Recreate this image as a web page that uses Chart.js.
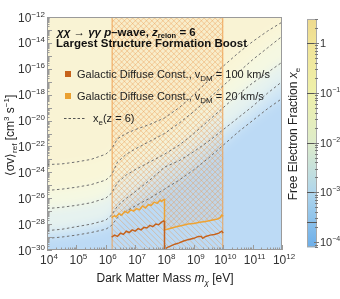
<!DOCTYPE html>
<html><head><meta charset="utf-8">
<script src="https://cdn.jsdelivr.net/npm/chart.js@4.4.1/dist/chart.umd.min.js"></script>
<style>html,body{margin:0;padding:0;background:#fff}#wrap{width:340px;height:299px;position:relative}</style>
</head><body><div id="wrap"><canvas id="c" width="340" height="299"></canvas></div>
<script>
// ---------- data (log10 values) ----------
const xTickExps = [4,5,6,7,8,9,10,11,12];
const yTickExps = [-12,-14,-16,-18,-20,-22,-24,-26,-28,-30];
const cbTickExps = [0,-1,-2,-3,-4];
const contourLevelsLog = [0, -1, -2, -3, -3.6];           // x_e levels of dashed contours
const contourLogMass = [4,4.5,5,5.5,6,6.2,6.4,6.7,7,7.5,8,8.5,9,9.5,10,10.5,11,11.5,12];
const contourXe1   = [-23.4,-23.35,-23.2,-23.0,-22.6,-22.2,-21.4,-21.0,-20.7,-20.3,-19.8,-19.0,-18.0,-16.9,-15.8,-14.8,-13.9,-13.1,-12.4];
const contourXe01  = [-25.4,-25.3,-25.15,-24.95,-24.6,-24.2,-23.2,-22.6,-22.2,-21.6,-21.0,-20.2,-19.3,-18.3,-17.3,-16.3,-15.3,-14.4,-13.5];
const contourXe001 = [-26.8,-26.7,-26.55,-26.35,-26.0,-25.6,-24.8,-24.2,-23.8,-23.2,-22.6,-21.9,-21.0,-20.0,-19.0,-18.0,-17.1,-16.3,-15.5];
const contourXe1e3 = [-28.5,-28.4,-28.2,-28.0,-27.7,-27.3,-26.6,-26.0,-25.5,-24.6,-23.6,-23.1,-22.4,-21.6,-20.7,-19.8,-18.9,-17.9,-17.0];
const contourXe25e5= [-29.1,-29.0,-28.85,-28.65,-28.4,-28.1,-27.5,-27.0,-26.6,-26.0,-25.3,-24.6,-23.8,-22.9,-21.9,-20.9,-20.0,-19.1,-18.3];

const v100LogMass  = [6.2,6.3,6.4,6.5,6.6,6.7,6.8,6.9,7.0,7.1,7.2,7.3,7.4,7.5,7.6,7.7,7.8,7.9,7.97,8.0,8.0,8.1,8.2,8.35,8.5,8.65,8.8,9.0,9.15,9.25,9.3,9.4,9.55,9.7,9.85,9.95,10.0];
const v100LogSigma = [-29.0,-28.85,-28.95,-28.7,-28.8,-28.55,-28.65,-28.45,-28.55,-28.35,-28.45,-28.25,-28.3,-28.1,-28.2,-28.0,-28.05,-27.85,-27.75,-27.8,-29.95,-29.8,-29.7,-29.55,-29.45,-29.3,-29.2,-29.1,-28.95,-28.95,-29.1,-28.95,-28.85,-28.8,-28.7,-28.55,-28.7];
const v20LogMass   = [6.2,6.3,6.35,6.45,6.55,6.65,6.75,6.85,6.95,7.05,7.15,7.25,7.35,7.45,7.55,7.65,7.75,7.85,7.9,7.97,8.0,8.0,8.1,8.25,8.4,8.6,8.8,9.0,9.2,9.4,9.6,9.8,9.9,9.95,10.0];
const v20LogSigma  = [-27.5,-27.35,-27.45,-27.2,-27.3,-27.0,-27.15,-26.9,-27.0,-26.8,-26.9,-26.6,-26.75,-26.5,-26.55,-26.3,-26.4,-26.15,-26.25,-26.1,-26.1,-28.45,-28.4,-28.3,-28.2,-28.1,-28.0,-27.95,-27.85,-27.8,-27.7,-27.6,-27.5,-27.3,-27.4];
const hatchLogMassRange = [6.2, 10];

const titleLine2 = 'Largest Structure Formation Boost';
const legendLabel1 = ['Galactic Diffuse Const., v', 'DM', ' = 100 km/s'];
const legendLabel2 = ['Galactic Diffuse Const., v', 'DM', ' = 20 km/s'];
const xAxisTitle = ['Dark Matter Mass ', 'm', 'χ', ' [eV]'];
const yAxisTitle = ['⟨σv⟩', 'ref', ' [cm', '3', ' s', '−1', ']'];
const cbTitle = ['Free Electron Fraction ', 'x', 'e'];

// ---------- styling ----------
const FONT = '"Liberation Sans", Arial, Helvetica, sans-serif';
const cmapStops = [[0.48,[238,218,142]],[0,[241,228,152]],[-1,[238,240,170]],[-2,[222,236,202]],[-3,[176,214,236]],[-4.1,[108,174,233]]];
function cmap(l){
  if (l >= cmapStops[0][0]) return cmapStops[0][1];
  for (let i=0;i<cmapStops.length-1;i++){
    const [a,ca]=cmapStops[i],[b,cb]=cmapStops[i+1];
    if (l<=a && l>=b){const t=(a-l)/(a-b);return ca.map((v,k)=>Math.round(v+(cb[k]-v)*t));}
  }
  return cmapStops[cmapStops.length-1][1];
}
function light(c,a){return 'rgb('+c.map(v=>Math.round(v*a+255*(1-a))).join(',')+')';}
const bandLevels = [-3.9,-3.3,-2.5,-1.5,-0.5,0.2]; // below lowest contour ... above top contour
const bandAlpha  = [0.5,0.48,0.45,0.42,0.42,0.4];

const pts = (m,s)=>m.map((v,i)=>({x:10**v,y:10**s[i]}));
const contours = [contourXe1,contourXe01,contourXe001,contourXe1e3,contourXe25e5];

const datasets = [
  {data:pts(v100LogMass,v100LogSigma),borderColor:'#c6621b',borderWidth:1.5,order:0},
  {data:pts(v20LogMass,v20LogSigma),borderColor:'#eea333',borderWidth:1.5,order:0},
  ...contours.map(c=>({data:pts(contourLogMass,c),borderColor:'#707070',borderWidth:1,borderDash:[2.5,2.5],order:1}))
].map(d=>Object.assign({pointRadius:0,tension:0,fill:false},d));

function rich(ctx,segs,x,y,align){
  let w=0;
  segs.forEach(s=>{ctx.font=s.f;w+=ctx.measureText(s.t).width;});
  let cx = align==='center'?x-w/2:align==='right'?x-w:x;
  segs.forEach(s=>{ctx.font=s.f;ctx.fillText(s.t,cx,y+(s.dy||0));cx+=ctx.measureText(s.t).width;});
  return w;
}
const minus = e=>String(e).replace('-','−');

const drawPlugin = {
  id:'draw',
  beforeDatasetsDraw(chart){
    const {ctx,chartArea:a,scales:{x,y}}=chart;
    const off=document.createElement('canvas');off.width=chart.width;off.height=chart.height;
    const o=off.getContext('2d');
    o.fillStyle=light(cmap(bandLevels[0]),bandAlpha[0]);o.fillRect(0,0,off.width,off.height);
    for(let i=contours.length-1;i>=0;i--){
      const p=contourLogMass.map((m,k)=>[x.getPixelForValue(10**m),y.getPixelForValue(10**contours[i][k])]);
      o.beginPath();
      o.moveTo(a.left-60,p[0][1]);
      p.forEach(q=>o.lineTo(q[0],q[1]));
      o.lineTo(a.right+60,p[p.length-1][1]);
      o.lineTo(a.right+60,a.top-80);o.lineTo(a.left-60,a.top-80);o.closePath();
      const j=contours.length-i;
      o.fillStyle=light(cmap(bandLevels[j]),bandAlpha[j]);o.fill();
    }
    ctx.save();
    ctx.beginPath();ctx.rect(a.left,a.top,a.right-a.left,a.bottom-a.top);ctx.clip();
    ctx.filter='blur(5px)';ctx.drawImage(off,0,0);ctx.filter='none';
    const xa=x.getPixelForValue(10**hatchLogMassRange[0]),xb=x.getPixelForValue(10**hatchLogMassRange[1]);
    const H=a.bottom-a.top,sp=5.5;
    ctx.save();
    ctx.beginPath();ctx.rect(xa,a.top,xb-xa,H);ctx.clip();
    ctx.strokeStyle='rgba(236,150,70,0.5)';ctx.lineWidth=0.8;
    ctx.beginPath();
    for(let k=-H;k<xb-xa;k+=sp){ctx.moveTo(xa+k,a.top);ctx.lineTo(xa+k+H,a.bottom);}
    ctx.stroke();
    ctx.beginPath();
    ctx.moveTo(xa,a.top);
    v20LogMass.forEach((m,i)=>ctx.lineTo(x.getPixelForValue(10**m),y.getPixelForValue(10**v20LogSigma[i])));
    ctx.lineTo(xb,a.top);ctx.closePath();ctx.clip();
    ctx.fillStyle='rgba(245,165,90,0.08)';ctx.fillRect(xa,a.top,xb-xa,H);
    ctx.beginPath();
    for(let k=-H;k<xb-xa;k+=sp){ctx.moveTo(xa+k,a.bottom);ctx.lineTo(xa+k+H,a.top);}
    ctx.stroke();
    ctx.restore();
    ctx.strokeStyle='rgba(238,160,80,0.9)';ctx.lineWidth=1;
    ctx.beginPath();ctx.moveTo(xa+0.5,a.top);ctx.lineTo(xa+0.5,a.bottom);ctx.moveTo(xb-0.5,a.top);ctx.lineTo(xb-0.5,a.bottom);ctx.stroke();
    ctx.restore();
  },
  afterDraw(chart){
    const {ctx,chartArea:a,scales:{x,y,xe}}=chart;
    ctx.save();
    ctx.strokeStyle='#9a9a9a';ctx.lineWidth=1;
    ctx.strokeRect(a.left+0.5,a.top+0.5,a.right-a.left-1,a.bottom-a.top-1);
    ctx.beginPath();
    for(let e=4;e<=12;e++){
      for(let m=1;m<10;m++){
        if(e===12&&m>1)break;
        const px=Math.round(x.getPixelForValue(m*10**e))+0.5;
        const L=m===1?5:2.5;
        ctx.moveTo(px,a.bottom);ctx.lineTo(px,a.bottom-L);
      }
    }
    for(let e=-30;e<=-12;e++){
      for(let m=1;m<10;m++){
        if(e===-12&&m>1)break;
        const py=Math.round(y.getPixelForValue(m*10**e))+0.5;
        const L=m===1?5:2.5;
        ctx.moveTo(a.left,py);ctx.lineTo(a.left+L,py);
      }
    }
    ctx.stroke();
    ctx.fillStyle='#333';ctx.textBaseline='alphabetic';
    xTickExps.forEach(e=>{
      rich(ctx,[{t:'10',f:'12px '+FONT},{t:minus(e),f:'8px '+FONT,dy:-5}],x.getPixelForValue(10**e)+2,264,'center');
    });
    yTickExps.forEach(e=>{
      rich(ctx,[{t:'10',f:'12px '+FONT},{t:minus(e),f:'8px '+FONT,dy:-5}],45,y.getPixelForValue(10**e)+4.5,'right');
    });
    ctx.fillStyle='#222';
    rich(ctx,[{t:xAxisTitle[0],f:'12px '+FONT},{t:xAxisTitle[1],f:'italic 12px '+FONT},{t:xAxisTitle[2],f:'italic 8px '+FONT,dy:3},{t:xAxisTitle[3],f:'12px '+FONT}],165,282,'center');
    ctx.save();ctx.translate(14,(a.top+a.bottom)/2+2);ctx.rotate(-Math.PI/2);
    rich(ctx,[{t:yAxisTitle[0],f:'12px '+FONT},{t:yAxisTitle[1],f:'8px '+FONT,dy:3},{t:yAxisTitle[2],f:'12px '+FONT},{t:yAxisTitle[3],f:'8px '+FONT,dy:-5},{t:yAxisTitle[4],f:'12px '+FONT},{t:yAxisTitle[5],f:'8px '+FONT,dy:-5},{t:yAxisTitle[6],f:'12px '+FONT}],0,0,'center');
    ctx.restore();
    const cbL=307,cbR=317;
    const yT=xe.getPixelForValue(10**0.48),yB=xe.getPixelForValue(10**-4.1);
    const g=ctx.createLinearGradient(0,yT,0,yB);
    cmapStops.forEach(([l,c])=>{g.addColorStop(Math.min(1,Math.max(0,(xe.getPixelForValue(10**l)-yT)/(yB-yT))),'rgb('+c.join(',')+')');});
    ctx.fillStyle=g;ctx.fillRect(cbL,yT,cbR-cbL,yB-yT);
    ctx.strokeStyle='#a8a8a8';ctx.strokeRect(cbL+0.5,yT+0.5,cbR-cbL-1,yB-yT-1);
    ctx.strokeStyle='#555';ctx.lineWidth=1.2;ctx.beginPath();
    contourLevelsLog.forEach(l=>{const py=Math.round(xe.getPixelForValue(10**l))+0.5;ctx.moveTo(cbL,py);ctx.lineTo(cbR,py);});
    ctx.stroke();
    ctx.strokeStyle='#777';ctx.lineWidth=1;ctx.beginPath();
    for(let e=-5;e<=0;e++)for(let m=1;m<10;m++){
      const v=m*10**e;if(v<10**-4.1||v>10**0.48)continue;
      const py=Math.round(xe.getPixelForValue(v))+0.5;
      if(m===1){ctx.moveTo(cbR-3,py);ctx.lineTo(cbR+2,py);}else{ctx.moveTo(cbR-2,py);ctx.lineTo(cbR+1,py);}
    }
    ctx.stroke();
    ctx.fillStyle='#333';
    cbTickExps.forEach(e=>{
      const py=xe.getPixelForValue(10**e)+4;
      if(e===0) rich(ctx,[{t:'1',f:'11px '+FONT}],320,py,'left');
      else rich(ctx,[{t:'10',f:'11px '+FONT},{t:minus(e),f:'7px '+FONT,dy:-5}],320,py,'left');
    });
    ctx.fillStyle='#222';
    ctx.save();ctx.translate(297,134);ctx.rotate(-Math.PI/2);
    rich(ctx,[{t:cbTitle[0],f:'12px '+FONT},{t:cbTitle[1],f:'italic 12px '+FONT},{t:cbTitle[2],f:'8px '+FONT,dy:3}],0,0,'center');
    ctx.restore();
    ctx.fillStyle='#111';
    const B='bold 11.5px '+FONT,BI='italic bold 11.5px '+FONT;
    rich(ctx,[{t:'χχ → γγ ',f:BI},{t:'p',f:BI},{t:'–wave, ',f:B},{t:'z',f:BI},{t:'reion',f:'bold 7.5px '+FONT,dy:2},{t:' = 6',f:B}],57,36,'left');
    rich(ctx,[{t:titleLine2,f:B}],56,47,'left');
    ctx.fillStyle='#c6621b';ctx.fillRect(65,71,6,6);
    ctx.fillStyle='#eaa030';ctx.fillRect(65,93,6,6);
    ctx.fillStyle='#222';
    const R='11px '+FONT,S='8px '+FONT;
    rich(ctx,[{t:legendLabel1[0],f:R},{t:legendLabel1[1],f:S,dy:3},{t:legendLabel1[2],f:R}],77,78,'left');
    rich(ctx,[{t:legendLabel2[0],f:R},{t:legendLabel2[1],f:S,dy:3},{t:legendLabel2[2],f:R}],77,100,'left');
    ctx.strokeStyle='#555';ctx.lineWidth=1;ctx.setLineDash([2.5,2]);
    ctx.beginPath();ctx.moveTo(64,118.5);ctx.lineTo(85,118.5);ctx.stroke();ctx.setLineDash([]);
    rich(ctx,[{t:'x',f:R},{t:'e',f:S,dy:3},{t:'(z = 6)',f:R}],93,122,'left');
    ctx.restore();
  }
};

new Chart(document.getElementById('c'),{
  type:'line',
  data:{datasets},
  options:{
    responsive:false,animation:false,devicePixelRatio:1,
    layout:{padding:{top:17,left:0,right:0,bottom:0}},
    plugins:{legend:{display:false},tooltip:{enabled:false}},
    scales:{
      x:{type:'logarithmic',position:'bottom',min:1e4,max:1e12,ticks:{display:false},grid:{display:false},border:{display:false},
         afterFit(s){s.height=49;}},
      y:{type:'logarithmic',position:'left',min:1e-30,max:1e-12,ticks:{display:false},grid:{display:false},border:{display:false},
         afterFit(s){s.width=47;}},
      gap:{type:'linear',position:'right',weight:0,ticks:{display:false},grid:{display:false},border:{display:false},
         afterFit(s){s.width=25;}},
      xe:{type:'logarithmic',position:'right',weight:1,min:10**-4.14,max:10**0.52,ticks:{display:false},grid:{display:false},border:{display:false},
         afterFit(s){s.width=33;}}
    }
  },
  plugins:[drawPlugin]
});
</script></body></html>
